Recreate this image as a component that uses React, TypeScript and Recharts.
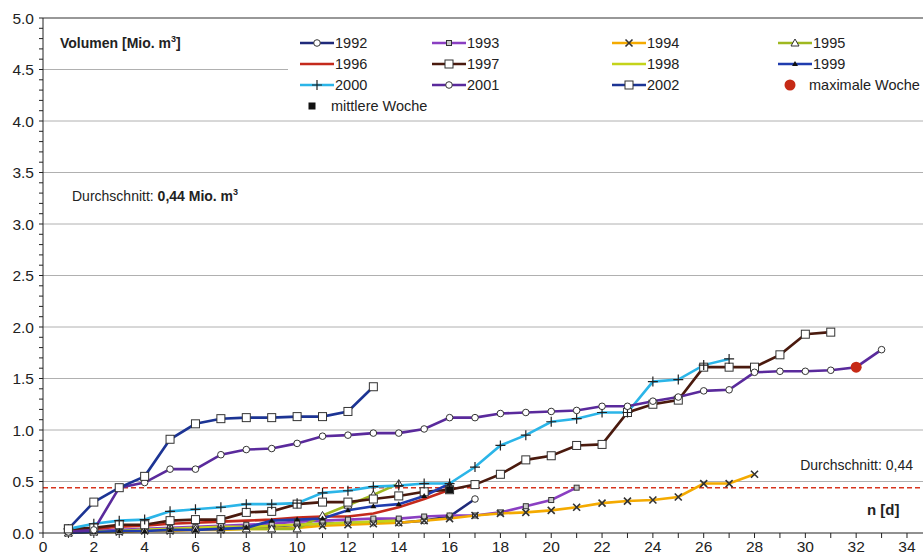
import React from 'react'
import { ComposedChart, Line, Scatter, XAxis, YAxis, CartesianGrid, ReferenceLine } from 'recharts'

// day index n [d]
const days = [1, 2, 3, 4, 5, 6, 7, 8, 9, 10, 11, 12, 13, 14, 15, 16, 17, 18, 19, 20, 21, 22, 23, 24, 25, 26, 27, 28, 29, 30, 31, 32, 33]

// cumulative volume [Mio. m3] per year, starting at day 1
const s1992 = [0.01, 0.02, 0.02, 0.03, 0.03, 0.04, 0.05, 0.05, 0.06, 0.08, 0.09, 0.10, 0.10, 0.10, 0.12, 0.16, 0.33]
const s1993 = [0.00, 0.02, 0.03, 0.04, 0.05, 0.06, 0.07, 0.08, 0.09, 0.11, 0.12, 0.13, 0.14, 0.14, 0.16, 0.17, 0.17, 0.20, 0.26, 0.32, 0.44]
const s1994 = [0.00, 0.01, 0.01, 0.02, 0.02, 0.03, 0.03, 0.04, 0.04, 0.05, 0.07, 0.08, 0.09, 0.10, 0.12, 0.14, 0.17, 0.19, 0.20, 0.22, 0.25, 0.29, 0.31, 0.32, 0.35, 0.48, 0.48, 0.57]
const s1995 = [0.00, 0.01, 0.02, 0.03, 0.03, 0.04, 0.04, 0.04, 0.04, 0.04, 0.17, 0.27, 0.37, 0.48]
const s1996 = [0.02, 0.04, 0.06, 0.07, 0.09, 0.10, 0.11, 0.12, 0.13, 0.15, 0.16, 0.16, 0.19, 0.25, 0.33, 0.42]
const s1997 = [0.04, 0.05, 0.08, 0.08, 0.12, 0.13, 0.13, 0.20, 0.21, 0.28, 0.30, 0.30, 0.33, 0.36, 0.40, 0.42, 0.47, 0.57, 0.71, 0.75, 0.85, 0.86, 1.17, 1.25, 1.29, 1.61, 1.61, 1.61, 1.73, 1.93, 1.95]
const s1998 = [0.00, 0.01, 0.02, 0.03, 0.04, 0.05, 0.06, 0.06, 0.07, 0.08, 0.09, 0.10, 0.11, 0.12]
const s1999 = [0.00, 0.01, 0.02, 0.02, 0.03, 0.03, 0.04, 0.05, 0.12, 0.13, 0.14, 0.22, 0.26, 0.28, 0.36, 0.48]
const s2000 = [0.04, 0.09, 0.12, 0.13, 0.21, 0.23, 0.25, 0.28, 0.28, 0.29, 0.39, 0.41, 0.45, 0.46, 0.48, 0.48, 0.64, 0.85, 0.95, 1.08, 1.11, 1.17, 1.17, 1.47, 1.49, 1.63, 1.69]
const s2001 = [0.01, 0.03, 0.44, 0.49, 0.62, 0.62, 0.76, 0.81, 0.82, 0.87, 0.94, 0.95, 0.97, 0.97, 1.01, 1.12, 1.12, 1.16, 1.17, 1.18, 1.19, 1.23, 1.23, 1.28, 1.32, 1.38, 1.39, 1.56, 1.57, 1.57, 1.58, 1.61, 1.78]
const s2002 = [0.04, 0.30, 0.44, 0.55, 0.91, 1.06, 1.11, 1.12, 1.12, 1.13, 1.13, 1.18, 1.42]

const maxWeek = [{ n: 32, v: 1.61 }]
const midWeek = [{ n: 16, v: 0.42 }]
const average = 0.44

const xTicks = [0, 1, 2, 3, 4, 5, 6, 7, 8, 9, 10, 11, 12, 13, 14, 15, 16, 17, 18, 19, 20, 21, 22, 23, 24, 25, 26, 27, 28, 29, 30, 31, 32, 33, 34]
const yTicks = Array.from({ length: 51 }, (_, i) => i / 10)
const gridValues = [0.5, 1.0, 1.5, 2.0, 2.5, 3.0, 3.5, 4.0, 4.5]

const series = [
  { key: 'y1992', name: '1992', color: '#1f2a7a', marker: 'circle', values: s1992 },
  { key: 'y1993', name: '1993', color: '#8a3fc2', marker: 'smallSquare', values: s1993 },
  { key: 'y1994', name: '1994', color: '#f4aa00', marker: 'cross', values: s1994 },
  { key: 'y1995', name: '1995', color: '#9fb820', marker: 'triangle', values: s1995 },
  { key: 'y1996', name: '1996', color: '#c42a1c', marker: 'none', values: s1996 },
  { key: 'y1997', name: '1997', color: '#4a1a0e', marker: 'square', values: s1997 },
  { key: 'y1998', name: '1998', color: '#c4d31a', marker: 'none', values: s1998 },
  { key: 'y1999', name: '1999', color: '#1f3cae', marker: 'dot', values: s1999 },
  { key: 'y2000', name: '2000', color: '#2bb5e8', marker: 'plus', values: s2000 },
  { key: 'y2001', name: '2001', color: '#5a2a9c', marker: 'circle', values: s2001 },
  { key: 'y2002', name: '2002', color: '#1c3494', marker: 'square', values: s2002 },
]

const data = days.map((n, i) => {
  const row: any = { n }
  series.forEach(s => { row[s.key] = i < s.values.length ? s.values[i] : null })
  return row
})

const FONT = '"Liberation Sans", Arial, sans-serif'

function drawMarker(kind: string, cx: number, cy: number) {
  switch (kind) {
    case 'circle':
      return <circle cx={cx} cy={cy} r={3.3} fill="#fff" stroke="#333" strokeWidth={1} />
    case 'square':
      return <rect x={cx - 4} y={cy - 4} width={8} height={8} fill="#fff" stroke="#333" strokeWidth={1} />
    case 'smallSquare':
      return <rect x={cx - 2.5} y={cy - 2.5} width={5} height={5} fill="#c9c9c9" stroke="#333" strokeWidth={1} />
    case 'cross':
      return <path d={`M${cx - 3.5},${cy - 3.5}L${cx + 3.5},${cy + 3.5}M${cx + 3.5},${cy - 3.5}L${cx - 3.5},${cy + 3.5}`} stroke="#333" strokeWidth={1.6} />
    case 'triangle':
      return <path d={`M${cx},${cy - 4}L${cx + 4},${cy + 3}L${cx - 4},${cy + 3}Z`} fill="#fff" stroke="#333" strokeWidth={1} />
    case 'plus':
      return <path d={`M${cx - 5},${cy}L${cx + 5},${cy}M${cx},${cy - 5}L${cx},${cy + 5}`} stroke="#222" strokeWidth={1.2} />
    case 'dot':
      return <path d={`M${cx},${cy - 3}L${cx + 3},${cy + 2}L${cx - 3},${cy + 2}Z`} fill="#111" />
    case 'bigDot':
      return <circle cx={cx} cy={cy} r={5.5} fill="#c62a16" />
    case 'blackSquare':
      return <rect x={cx - 3.5} y={cy - 3.5} width={7} height={7} fill="#111" />
    default:
      return null
  }
}

const legendItems = [
  ...series.map(s => ({ name: s.name, color: s.color, marker: s.marker, line: true })),
  { name: 'maximale Woche', color: '', marker: 'bigDot', line: false },
  { name: 'mittlere Woche', color: '', marker: 'blackSquare', line: false },
]
const legendCols = [300, 432, 612, 778]
const legendRows = [43, 64, 85, 106]

function LegendBox() {
  return (
    <div style={{ position: 'absolute', left: 288, top: 20, width: 635, height: 98, background: '#fff' }}>
      {legendItems.map((item, i) => {
        const x = legendCols[i % 4] - 288
        const y = legendRows[Math.floor(i / 4)] - 20
        return (
          <div key={item.name} style={{ position: 'absolute', left: x, top: y - 9, height: 18, display: 'flex', alignItems: 'center', whiteSpace: 'nowrap' }}>
            <svg width={item.line ? 34 : 28} height={18}>
              {item.line && <line x1={0} x2={34} y1={9} y2={9} stroke={item.color} strokeWidth={2.6} />}
              {drawMarker(item.marker, item.line ? 17 : 12, 9)}
            </svg>
            <span style={{ fontSize: 14.5, color: '#222', marginLeft: item.line ? 1 : 3 }}>{item.name}</span>
          </div>
        )
      })}
    </div>
  )
}

const AverageLabel = (props: any) => {
  const { viewBox } = props
  return (
    <text x={viewBox.x + viewBox.width - 10} y={viewBox.y - 18} textAnchor="end" fontSize={14} fill="#222" fontFamily={FONT}>
      Durchschnitt: 0,44
    </text>
  )
}

export default function App() {
  return (
    <div style={{ position: 'absolute', left: 0, top: 0, width: 923, height: 560, background: '#fff', fontFamily: FONT }}>
      <ComposedChart width={923} height={560} data={data} margin={{ top: 18, right: 0, left: 0, bottom: 0 }}>
        <CartesianGrid vertical={false} horizontalValues={gridValues} stroke="#b0b0b0" strokeWidth={1} />
        <XAxis
          dataKey="n"
          type="number"
          domain={[0, 34.63]}
          ticks={xTicks}
          interval={0}
          allowDataOverflow
          height={27}
          tickSize={5}
          tickMargin={3}
          tickFormatter={(v: number) => (v % 2 === 0 ? String(v) : '')}
          stroke="#222"
          tick={{ fill: '#222', fontSize: 15.5, fontFamily: FONT }}
        />
        <YAxis
          type="number"
          domain={[0, 5]}
          ticks={yTicks}
          interval={0}
          width={43}
          tickSize={4}
          tickMargin={5}
          tickFormatter={(v: number) => (Math.round(v * 10) % 5 === 0 ? v.toFixed(1) : '')}
          stroke="#222"
          tick={{ fill: '#222', fontSize: 15.5, fontFamily: FONT }}
        />
        <ReferenceLine y={5} stroke="#333" strokeWidth={1.2} />
        <ReferenceLine y={average} stroke="#d8341e" strokeWidth={1.6} strokeDasharray="5 3" label={<AverageLabel />} />
        {series.map(s => (
          <Line
            key={s.key}
            type="linear"
            dataKey={s.key}
            name={s.name}
            stroke={s.color}
            strokeWidth={2.6}
            isAnimationActive={false}
            dot={(p: any) => {
              if (p.cx == null || p.cy == null || p.value == null) return <g key={`${s.key}-${p.index}`} />
              return <g key={`${s.key}-${p.index}`}>{drawMarker(s.marker, p.cx, p.cy)}</g>
            }}
            activeDot={false}
          />
        ))}
        <Scatter data={maxWeek} dataKey="v" isAnimationActive={false} shape={(p: any) => drawMarker('bigDot', p.cx, p.cy) as any} />
        <Scatter data={midWeek} dataKey="v" isAnimationActive={false} shape={(p: any) => drawMarker('blackSquare', p.cx, p.cy) as any} />
      </ComposedChart>
      <LegendBox />
      <div style={{ position: 'absolute', left: 60, top: 36, fontSize: 14, fontWeight: 'bold', color: '#222', whiteSpace: 'nowrap', lineHeight: '14px' }}>
        Volumen [Mio. m<sup style={{ fontSize: 9, lineHeight: 0 }}>3</sup>]
      </div>
      <div style={{ position: 'absolute', left: 72, top: 189, fontSize: 14, color: '#222', whiteSpace: 'nowrap', lineHeight: '14px' }}>
        Durchschnitt: <b>0,44 Mio. m<sup style={{ fontSize: 9, lineHeight: 0 }}>3</sup></b>
      </div>
      <div style={{ position: 'absolute', left: 867, top: 502, fontSize: 15, fontWeight: 'bold', color: '#222', whiteSpace: 'nowrap', lineHeight: '15px' }}>
        n [d]
      </div>
    </div>
  )
}
